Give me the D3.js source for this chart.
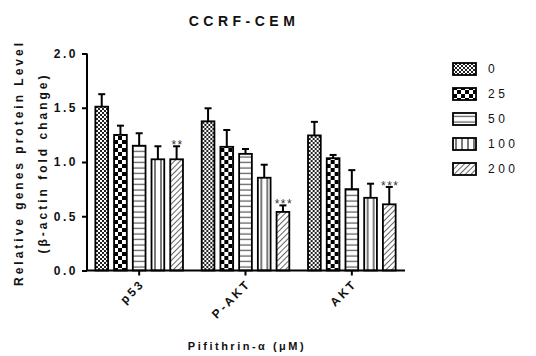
<!DOCTYPE html>
<html>
<head>
<meta charset="utf-8">
<script src="https://cdn.jsdelivr.net/npm/d3@7"></script>
<style>
  body { margin: 0; background: #fff; }
  svg text { font-family: "Liberation Sans", Arial, sans-serif; fill: #111; }
</style>
</head>
<body>
<svg id="chart" width="536" height="356"></svg>
<script>
// data
const genes = ['p53', 'P-AKT', 'AKT'];
const doses = ['0', '25', '50', '100', '200'];
const means = [
  [1.51, 1.25, 1.15, 1.025, 1.025],
  [1.375, 1.14, 1.075, 0.855, 0.54],
  [1.245, 1.035, 0.75, 0.67, 0.61]
];
const errs = [
  [0.115, 0.085, 0.115, 0.12, 0.12],
  [0.12, 0.155, 0.045, 0.12, 0.06],
  [0.125, 0.03, 0.175, 0.13, 0.16]
];
const stars = [
  ['', '', '', '', '**'],
  ['', '', '', '', '***'],
  ['', '', '', '', '***']
];
const yTicks = [0, 0.5, 1.0, 1.5, 2.0];

const svg = d3.select('#chart');

// fill patterns, GraphPad style
const defs = svg.append('defs');
let p = defs.append('pattern').attr('id', 'pat0').attr('patternUnits', 'userSpaceOnUse')
  .attr('width', 4).attr('height', 4);
p.append('rect').attr('width', 4).attr('height', 4).attr('fill', '#fff');
p.append('rect').attr('width', 2).attr('height', 2).attr('fill', '#222');
p.append('rect').attr('x', 2).attr('y', 2).attr('width', 2).attr('height', 2).attr('fill', '#222');

p = defs.append('pattern').attr('id', 'pat1').attr('patternUnits', 'userSpaceOnUse')
  .attr('width', 8).attr('height', 8);
p.append('rect').attr('width', 8).attr('height', 8).attr('fill', '#fff');
p.append('rect').attr('width', 4).attr('height', 4).attr('fill', '#000');
p.append('rect').attr('x', 4).attr('y', 4).attr('width', 4).attr('height', 4).attr('fill', '#000');

p = defs.append('pattern').attr('id', 'pat2').attr('patternUnits', 'userSpaceOnUse')
  .attr('width', 6).attr('height', 5.5);
p.append('rect').attr('width', 6).attr('height', 5.5).attr('fill', '#fff');
p.append('line').attr('x1', 0).attr('x2', 6).attr('y1', 3).attr('y2', 3)
  .attr('stroke', '#555').attr('stroke-width', 1.2);

p = defs.append('pattern').attr('id', 'pat3').attr('patternUnits', 'userSpaceOnUse')
  .attr('width', 6).attr('height', 6);
p.append('rect').attr('width', 6).attr('height', 6).attr('fill', '#fff');
p.append('line').attr('x1', 3).attr('x2', 3).attr('y1', 0).attr('y2', 6)
  .attr('stroke', '#222').attr('stroke-width', 1.2);

p = defs.append('pattern').attr('id', 'pat4').attr('patternUnits', 'userSpaceOnUse')
  .attr('width', 4).attr('height', 4).attr('patternTransform', 'rotate(45)');
p.append('rect').attr('width', 4).attr('height', 4).attr('fill', '#fff');
p.append('line').attr('x1', 0).attr('x2', 0).attr('y1', 0).attr('y2', 4)
  .attr('stroke', '#222').attr('stroke-width', 1.4);

const fills = doses.map((d, i) => 'url(#pat' + i + ')');

const mLeft = 87, mRight = 405, mTop = 53.5, mBottom = 270.5;

const x0 = d3.scaleBand().domain(genes).range([mLeft - 1, mRight]).padding(0);
const x1 = d3.scaleBand().domain(doses).range([0, x0.bandwidth()])
  .paddingInner(0.32).paddingOuter(0.5);
const y = d3.scaleLinear().domain([0, 2]).range([mBottom, mTop]);

// title
svg.append('text').attr('x', 244).attr('y', 26).attr('text-anchor', 'middle')
  .style('font-size', '14px').style('font-weight', 'bold').style('letter-spacing', '4.5px')
  .text('CCRF-CEM');

// bars
const groups = svg.append('g').selectAll('g').data(genes).join('g')
  .attr('transform', d => `translate(${x0(d)},0)`);

groups.each(function(g, gi) {
  const sel = d3.select(this);
  const rows = doses.map((d, i) => ({ dose: d, i, v: means[gi][i], e: errs[gi][i], s: stars[gi][i] }));

  // error bars (up only)
  sel.selectAll('line.err').data(rows).join('line').attr('class', 'err')
    .attr('x1', d => x1(d.dose) + x1.bandwidth() / 2)
    .attr('x2', d => x1(d.dose) + x1.bandwidth() / 2)
    .attr('y1', d => y(d.v)).attr('y2', d => y(d.v + d.e))
    .attr('stroke', '#000').attr('stroke-width', 2);
  sel.selectAll('line.cap').data(rows).join('line').attr('class', 'cap')
    .attr('x1', d => x1(d.dose) + x1.bandwidth() / 2 - 3.5)
    .attr('x2', d => x1(d.dose) + x1.bandwidth() / 2 + 3.5)
    .attr('y1', d => y(d.v + d.e)).attr('y2', d => y(d.v + d.e))
    .attr('stroke', '#000').attr('stroke-width', 2);

  sel.selectAll('rect.bar').data(rows).join('rect').attr('class', 'bar')
    .attr('x', d => x1(d.dose)).attr('width', x1.bandwidth())
    .attr('y', d => y(d.v)).attr('height', d => mBottom - y(d.v))
    .attr('fill', d => fills[d.i]).attr('stroke', '#000').attr('stroke-width', 1.8);

  sel.selectAll('text.star').data(rows.filter(d => d.s)).join('text').attr('class', 'star')
    .attr('x', d => x1(d.dose) + x1.bandwidth() / 2 + 1)
    .attr('y', d => y(d.v + d.e) + 3)
    .attr('text-anchor', 'middle')
    .style('font-size', '12px').style('letter-spacing', '1.5px').style('fill', '#333')
    .text(d => d.s);
});

// y axis
const yAxis = svg.append('g').attr('transform', `translate(${mLeft},0)`)
  .call(d3.axisLeft(y).tickValues(yTicks).tickFormat(d3.format('.1f')).tickSize(5).tickPadding(4));
yAxis.select('.domain').attr('stroke-width', 2).attr('d', `M0,${mTop}V${mBottom}`);
yAxis.selectAll('.tick line').attr('stroke-width', 2);
yAxis.selectAll('.tick text').style('font-size', '12px').style('font-weight', 'bold')
  .style('font-family', '"Liberation Sans", Arial, sans-serif').style('letter-spacing', '2.5px');

// x axis
const xAxis = svg.append('g').attr('transform', `translate(0,${mBottom})`)
  .call(d3.axisBottom(x0).tickSize(5).tickSizeOuter(0));
xAxis.select('.domain').attr('stroke-width', 2).attr('d', `M${mLeft},0H${mRight}`);
xAxis.selectAll('.tick line').attr('stroke-width', 2);
xAxis.selectAll('.tick text')
  .attr('text-anchor', 'end').attr('dy', '0.35em')
  .attr('transform', 'translate(3,11) rotate(-45)')
  .attr('y', 0).attr('x', 0)
  .style('font-size', '12px').style('font-weight', 'bold')
  .style('font-family', '"Liberation Sans", Arial, sans-serif').style('letter-spacing', '2.5px');

// axis titles
svg.append('text').attr('transform', `translate(23,${(mTop + mBottom) / 2 + 1}) rotate(-90)`)
  .attr('text-anchor', 'middle')
  .style('font-size', '12px').style('font-weight', 'bold').style('letter-spacing', '3px')
  .text('Relative genes protein Level');
svg.append('text').attr('transform', `translate(47,${(mTop + mBottom) / 2 + 1}) rotate(-90)`)
  .attr('text-anchor', 'middle')
  .style('font-size', '12px').style('font-weight', 'bold').style('letter-spacing', '3px')
  .text('(β-actin fold change)');

svg.append('text').attr('x', 247).attr('y', 350).attr('text-anchor', 'middle')
  .style('font-size', '11px').style('font-weight', 'bold').style('letter-spacing', '2.5px')
  .text('Pifithrin-α (μM)');

// legend
const legend = svg.append('g').selectAll('g').data(doses).join('g')
  .attr('transform', (d, i) => `translate(453,${69 + i * 25})`);
legend.append('rect').attr('x', 0).attr('y', -6).attr('width', 23).attr('height', 12)
  .attr('fill', (d, i) => fills[i]).attr('stroke', '#000').attr('stroke-width', 1.8);
legend.append('text').attr('x', 35).attr('y', 0).attr('dy', '0.36em')
  .style('font-size', '12px').style('letter-spacing', '3.5px')
  .text(d => d);
</script>
</body>
</html>
